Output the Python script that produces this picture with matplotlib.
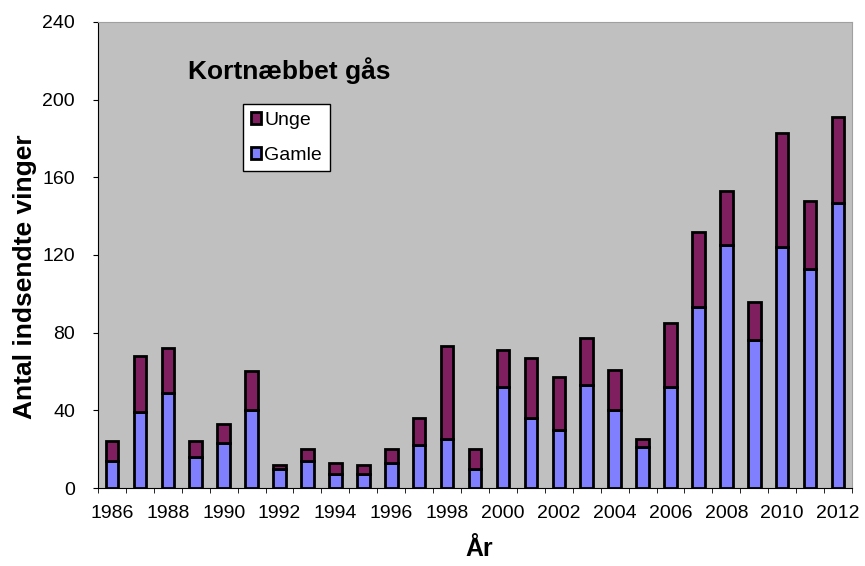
import numpy as np
import matplotlib.pyplot as plt

plt.rcParams['font.family'] = ['Liberation Sans', 'DejaVu Sans']

# Years and counts
years = list(range(1986, 2013))
gamle = [14, 39, 49, 16, 23, 40, 10, 14, 7, 7, 13, 22, 25, 10,
         52, 36, 30, 53, 40, 21, 52, 93, 125, 76, 124, 113, 147]
total = [24, 68, 72, 24, 33, 60, 12, 20, 13, 12, 20, 36, 73, 20,
         71, 67, 57, 77, 61, 25, 85, 132, 153, 96, 183, 148, 191]
unge = [t - g for t, g in zip(total, gamle)]

x = np.arange(len(years))
width = 0.45

fig = plt.figure(figsize=(8.65, 5.66), dpi=100)
ax = fig.add_axes([0.1133, 0.1378, 0.8717, 0.8234])
ax.set_facecolor('#C0C0C0')

ax.bar(x, gamle, width, color='#8080FF', edgecolor='black',
       linewidth=2, label='Gamle', zorder=3)
ax.bar(x, unge, width, bottom=gamle, color='#7F1F5F', edgecolor='black',
       linewidth=2, label='Unge', zorder=3)

ax.set_xlim(-0.5, len(years) - 0.5)
ax.set_ylim(0, 240)
ax.set_yticks(range(0, 241, 40))

ax.set_xticks(x[::2])
ax.set_xticklabels([str(y) for y in years[::2]])
ax.set_xticks(np.arange(-0.5, len(years), 1), minor=True)
ax.tick_params(axis='x', which='major', length=0, pad=12, labelsize=14)
ax.tick_params(axis='x', which='minor', length=3.6, direction='out')
ax.tick_params(axis='y', length=3.6, direction='out', pad=13, labelsize=14)

for s in ['top', 'right']:
    ax.spines[s].set_color('#A0A0A0')

ax.set_ylabel('Antal indsendte vinger', fontsize=19, fontweight='bold')
ax.yaxis.set_label_coords(-0.081, 0.454)
ax.set_xlabel('År', fontsize=18, fontweight='bold')
ax.xaxis.set_label_coords(0.505, -0.105)

ax.text(0.119, 0.878, 'Kortnæbbet gås', transform=ax.transAxes,
        fontsize=19, fontweight='bold', va='baseline', ha='left')

handles, labels = ax.get_legend_handles_labels()
leg = ax.legend(handles[::-1], labels[::-1], loc='upper left',
                bbox_to_anchor=(0.1923, 0.824), borderaxespad=0,
                fontsize=14, frameon=True, fancybox=False,
                edgecolor='black', framealpha=1,
                handlelength=0.55, handleheight=0.55, handletextpad=0.15,
                labelspacing=0.92, borderpad=0.4)
leg.get_frame().set_linewidth(1.0)

fig.savefig('out.png', dpi=100)
